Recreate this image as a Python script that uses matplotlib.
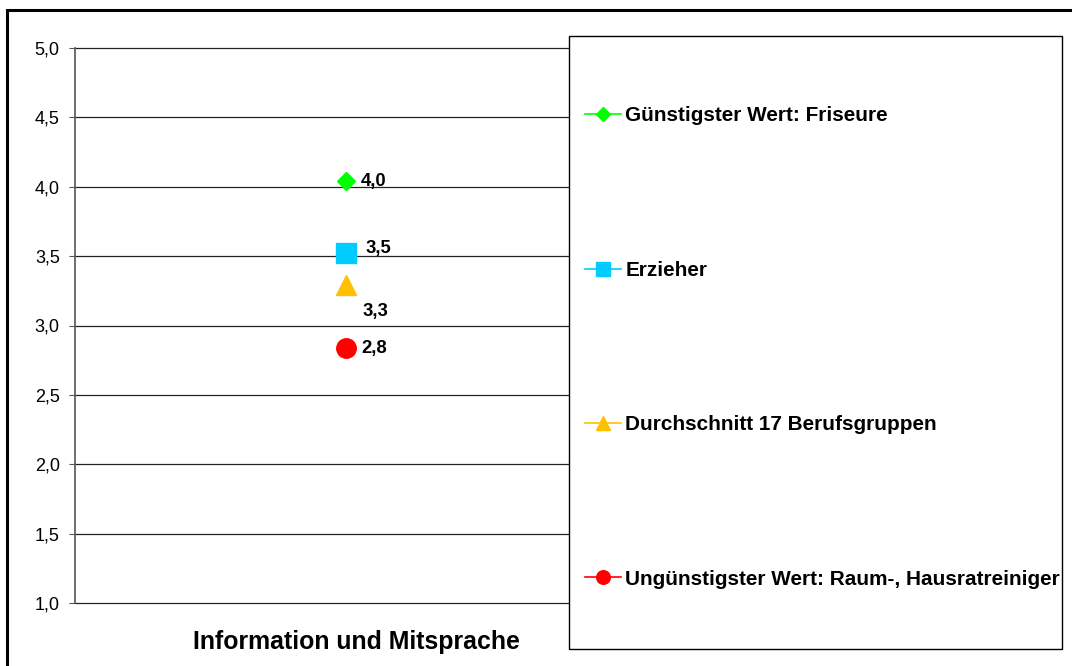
import matplotlib.pyplot as plt
from matplotlib.lines import Line2D
from matplotlib.patches import Rectangle

# values
category = "Information und Mitsprache"
series = ["Günstigster Wert: Friseure", "Erzieher",
          "Durchschnitt 17 Berufsgruppen",
          "Ungünstigster Wert: Raum-, Hausratreiniger"]
values = [4.04, 3.52, 3.29, 2.84]
labels = ["4,0", "3,5", "3,3", "2,8"]
colors = ["#00ff00", "#00ccff", "#ffc000", "#ff0000"]
markers = ["D", "s", "^", "o"]
msizes = [9.5, 14, 15, 14]
label_offsets = [(10.8, -0.5), (13.7, 3.6), (12.2, -18.7), (10.8, -0.7)]
yticks = [1.0, 1.5, 2.0, 2.5, 3.0, 3.5, 4.0, 4.5, 5.0]

W, H = 1072, 666
fig = plt.figure(figsize=(W / 100, H / 100), dpi=100)
plt.rcParams['font.family'] = ['Liberation Sans', 'DejaVu Sans']

ax = fig.add_axes([75 / W, 1 - 603 / H, (617 - 75) / W, (603 - 48) / H])
ax.set_xlim(-0.5, 0.5)
ax.set_ylim(1.0, 5.0)
ax.set_yticks(yticks)
ax.set_yticklabels([("%.1f" % t).replace(".", ",") for t in yticks], fontsize=13)
ax.set_xticks([])
for s in ["top", "right", "bottom"]:
    ax.spines[s].set_visible(False)
ax.spines["left"].set_color("#555555")
ax.spines["left"].set_linewidth(1.2)
ax.tick_params(axis="y", length=4, width=0.8, color="#555555", pad=7)
for t in yticks:
    ax.axhline(t, color="#222222", lw=0.9, zorder=1, clip_on=False)

for v, lab, c, m, ms, off in zip(values, labels, colors, markers, msizes, label_offsets):
    ax.plot([0], [v], marker=m, color=c, markersize=ms, linestyle="none", zorder=3)
    ax.annotate(lab, (0, v), xytext=off, textcoords="offset points",
                ha="left", va="center", fontsize=13.3, fontweight="bold")

ax.text(0.52, -0.07, category, transform=ax.transAxes, ha="center", va="center",
        fontsize=17.9, fontweight="bold")

# legend box
fig.patches.append(Rectangle((569 / W, 1 - 649 / H), (1062 - 569) / W, (649 - 36) / H,
                             transform=fig.transFigure, facecolor="white",
                             edgecolor="black", lw=1, zorder=5))
handles = [Line2D([0], [0], color=c, marker=m, markersize=ms * 0.7, lw=1.2)
           for c, m, ms in zip(colors, markers, msizes)]
leg = fig.legend(handles, series, loc="center left", frameon=False,
                 bbox_to_anchor=(575 / W, 1 - 347.5 / H), borderpad=0,
                 prop={"size": 14.95, "weight": "bold"},
                 handlelength=1.72, handletextpad=0.2, labelspacing=6.52)
leg.set_zorder(6)

# outer chart frame
fig.patches.append(Rectangle((7 / W, -0.1), 1.2, 1 - 10 / H + 0.1,
                             transform=fig.transFigure, fill=False,
                             edgecolor="black", lw=2.2, zorder=10))

fig.savefig("out.png", dpi=100)
